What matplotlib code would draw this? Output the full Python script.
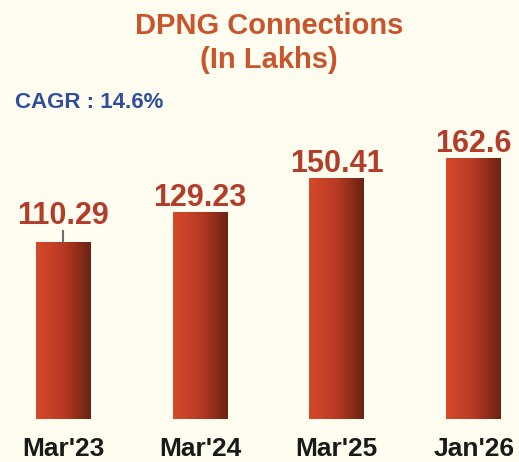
import matplotlib
matplotlib.use("Agg")
import matplotlib.pyplot as plt
import numpy as np
from matplotlib.colors import LinearSegmentedColormap

categories = ["Mar'23", "Mar'24", "Mar'25", "Jan'26"]
values = [110.29, 129.23, 150.41, 162.6]
value_labels = ["110.29", "129.23", "150.41", "162.6"]
title = "DPNG Connections\n(In Lakhs)"
cagr_text = "CAGR : 14.6%"

BG = "#FEFDF0"
plt.rcParams['font.family'] = ['Liberation Sans', 'DejaVu Sans']

fig = plt.figure(figsize=(5.19, 4.62), dpi=100, facecolor=BG)
ax = fig.add_axes([0, 43/462, 1, 289/462])
ax.set_facecolor(BG)
ax.set_xlim(-0.46, 3.33)
ax.set_ylim(0, 180)
for s in ax.spines.values():
    s.set_visible(False)
ax.set_yticks([])
ax.set_xticks(range(len(categories)))
ax.set_xticklabels(categories, fontsize=19, fontweight='bold', color='#1a1a1a')
ax.tick_params(axis='x', length=0, pad=13)

cmap = LinearSegmentedColormap.from_list('bar', ['#D6492A', '#B83A22', '#6A2313'])
grad = np.linspace(0, 1, 256).reshape(1, -1)
x = np.arange(len(categories))
bars = ax.bar(x, values, width=0.4, color='none', edgecolor='none')
for b in bars:
    x0, y0 = b.get_x(), b.get_y()
    w, h = b.get_width(), b.get_height()
    im = ax.imshow(grad, cmap=cmap, aspect='auto', extent=[x0, x0 + w, y0, y0 + h],
                   zorder=2, interpolation='bicubic')
    im.set_clip_path(b)

# small tick above first bar
ax.plot([x[0], x[0]], [values[0], values[0] + 7], color='#6b6b6b', lw=1.5, zorder=3)

for i, (xi, v, lab) in enumerate(zip(x, values, value_labels)):
    off = 4 + (9 if i == 0 else 0)
    ax.annotate(lab, (xi, v), xytext=(0, off), textcoords='offset points',
                ha='center', va='baseline', fontsize=22, fontweight='bold',
                color='#B23D2B')

ax.set_xlim(-0.46, 3.33)
ax.set_ylim(0, 180)

fig.text(269/519, 1 - 43/462, title, ha='center', va='center', fontsize=21,
         fontweight='bold', color='#C8552B', linespacing=1.25)
fig.text(15/519, 1 - 102/462, cagr_text, ha='left', va='center', fontsize=16,
         fontweight='bold', color='#2F4F9C')

fig.savefig('out.png', dpi=100, facecolor=BG)
